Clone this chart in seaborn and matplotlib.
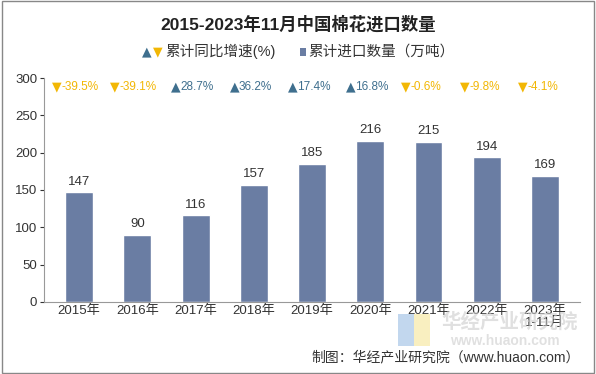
import matplotlib
matplotlib.use("Agg")
import matplotlib.pyplot as plt
import pandas as pd
import seaborn as sns
from matplotlib.patches import Rectangle

years = ["2015年", "2016年", "2017年", "2018年", "2019年", "2020年", "2021年", "2022年", "2023年\n1-11月"]
imports = [147, 90, 116, 157, 185, 216, 215, 194, 169]
growth = [-39.5, -39.1, 28.7, 36.2, 17.4, 16.8, -0.6, -9.8, -4.1]

BAR = "#6a7da3"
UP = "#3f6f8e"
DOWN = "#f2b705"

sns.set_style("white")
plt.rcParams["font.family"] = ["Liberation Sans", "Noto Sans CJK SC", "DejaVu Sans"]

df = pd.DataFrame({"year": years, "imports": imports})

fig = plt.figure(figsize=(5.96, 3.74), dpi=100)
ax = fig.add_axes([0.074, 0.193, 0.899, 0.598])
sns.barplot(data=df, x="year", y="imports", color=BAR, width=0.48, saturation=1, ax=ax)

ax.set_ylim(0, 300)
ax.set_xlim(-0.6, len(years) - 0.4)
ax.set_yticks(range(0, 301, 50))
ax.set_xlabel("")
ax.set_ylabel("")
ax.tick_params(axis="both", labelsize=9.5, colors="#333333", length=3, width=0.8)
ax.tick_params(axis="y", direction="out", left=True, pad=2)
ax.tick_params(axis="x", bottom=True, direction="out", pad=2)
ax.set_xticks([i + 0.5 for i in range(-1, len(years))], minor=True)
ax.tick_params(axis="x", which="major", length=0)
ax.tick_params(axis="x", which="minor", length=4, color="#999999")
for s in ["top", "right"]:
    ax.spines[s].set_visible(False)
for s in ["left", "bottom"]:
    ax.spines[s].set_color("#999999")
    ax.spines[s].set_linewidth(0.8)
for lbl in ax.get_xticklabels():
    lbl.set_linespacing(1.0)

for i, v in enumerate(imports):
    ax.text(i, v + 6, f"{v}", ha="center", va="bottom", fontsize=9.5, color="#333333")

# growth row: marker + number
for i, g in enumerate(growth):
    col = UP if g > 0 else DOWN
    mark = "▲" if g > 0 else "▼"
    txt = f"{g:.1f}%"
    shift = -16 if g < 0 else -14
    ax.annotate(mark, (i, 288), xytext=(shift, 0), textcoords="offset points",
                ha="center", va="center", fontsize=9, color=col, family=["DejaVu Sans"])
    ax.annotate(txt, (i, 288), xytext=(shift + 3.3, 0), textcoords="offset points",
                ha="left", va="center", fontsize=8.5, color=col)

fig.text(0.5, 0.935, "2015-2023年11月中国棉花进口数量", ha="center", va="center",
         fontsize=12.5, fontweight="bold", color="#222222")

# legend row
fig.text(0.238, 0.862, "▲", ha="left", va="center", fontsize=9, color=UP, family=["DejaVu Sans"])
fig.text(0.257, 0.862, "▼", ha="left", va="center", fontsize=9, color=DOWN, family=["DejaVu Sans"])
fig.text(0.277, 0.862, "累计同比增速(%)", ha="left", va="center", fontsize=10.5, color="#333333")
fig.patches.append(Rectangle((0.503, 0.85), 0.011, 0.022, transform=fig.transFigure,
                             facecolor=BAR, edgecolor="none"))
fig.text(0.518, 0.862, "累计进口数量（万吨）", ha="left", va="center", fontsize=10.5, color="#333333")

# watermark
fig.patches.append(Rectangle((0.668, 0.075), 0.027, 0.085, transform=fig.transFigure,
                             facecolor="#a9c6e8", edgecolor="none", alpha=0.7))
fig.patches.append(Rectangle((0.695, 0.075), 0.027, 0.085, transform=fig.transFigure,
                             facecolor="#f7e9a6", edgecolor="none", alpha=0.7))
fig.text(0.74, 0.14, "华经产业研究院", fontsize=14, fontweight="bold", color="#cccccc",
         alpha=0.6, va="center")
fig.text(0.755, 0.088, "www.huaon.com", fontsize=10, fontweight="bold",
         color="#cccccc", alpha=0.6, va="center")

fig.text(0.972, 0.045, "制图：华经产业研究院（www.huaon.com）", ha="right", va="center",
         fontsize=10, color="#333333")

fig.patches.append(Rectangle((0.003, 0.003), 0.994, 0.994, transform=fig.transFigure,
                             facecolor="none", edgecolor="#888888", linewidth=1))

fig.savefig("out.png", dpi=100)
